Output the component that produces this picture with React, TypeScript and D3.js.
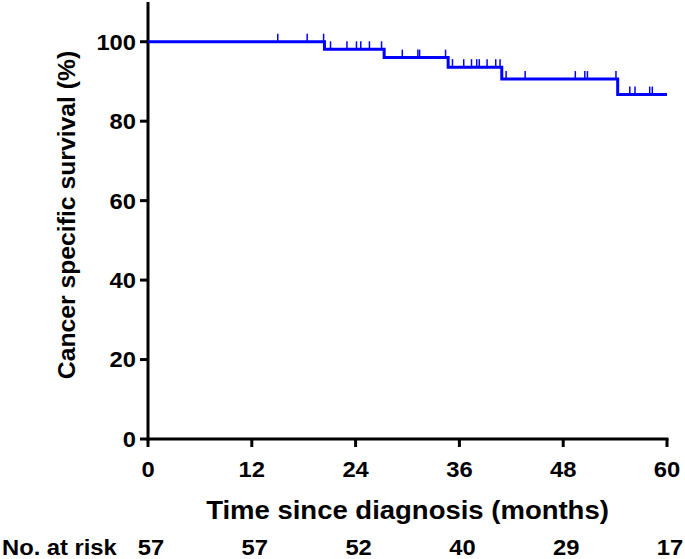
import React from 'react'
import * as d3 from 'd3'

// Kaplan-Meier steps (month, survival %)
const eventTimes = [20.4, 27.3, 34.7, 40.9, 54.3]
const eventSurvival = [98.1, 96.0, 93.6, 90.6, 86.7]
// censored observations (months)
const censorTimes = [
  15.0, 18.4, 20.3, 21.1, 23.0, 24.1, 24.6, 25.6, 27.0, 29.4, 31.2, 31.4, 34.4,
  35.2, 36.5, 37.4, 38.0, 38.3, 39.2, 40.2, 40.7, 41.4, 43.6, 49.4, 50.5, 50.8,
  54.1, 55.7, 56.3, 58.0, 58.3
]
const xTicks = [0, 12, 24, 36, 48, 60]
const yTicks = [0, 20, 40, 60, 80, 100]
const atRisk = [57, 57, 52, 40, 29, 17]

const W = 685
const H = 559
const font = 'Liberation Sans, Arial, sans-serif'

// bold text, slightly stretched horizontally like the original export
const Label = ({ x, y, size, anchor = 'start', sx = 1.08, rotate = 0, dy, children }: any) => (
  <text
    transform={`translate(${x},${y}) rotate(${rotate}) scale(${sx},1)`}
    dy={dy}
    textAnchor={anchor}
    fontFamily={font}
    fontWeight='bold'
    fontSize={size}
  >
    {children}
  </text>
)

const App = () => {
  const x = d3.scaleLinear().domain([0, 60]).range([148, 667])
  const y = d3.scaleLinear().domain([0, 110]).range([439, 2])

  // survival value at a given time (right-continuous step)
  const survAt = (t: number) => {
    let s = 100
    eventTimes.forEach((e, i) => {
      if (t >= e) s = eventSurvival[i]
    })
    return s
  }

  const pts: [number, number][] = [[0, 100]]
  eventTimes.forEach((e, i) => pts.push([e, eventSurvival[i]]))
  pts.push([60, eventSurvival[eventSurvival.length - 1]])
  const line = d3
    .line<[number, number]>()
    .x(d => x(d[0]))
    .y(d => y(d[1]))
    .curve(d3.curveStepAfter)

  return (
    <svg width={W} height={H} style={{ position: 'absolute', left: 0, top: 0 }}>
      <rect width={W} height={H} fill='#fff' />
      {/* axes */}
      <line x1={x(0)} x2={x(0)} y1={y(0) + 1.5} y2={y(110)} stroke='#000' strokeWidth={3} />
      <line x1={x(0) - 1.5} x2={x(60) + 1.5} y1={y(0)} y2={y(0)} stroke='#000' strokeWidth={3} />
      {yTicks.map(t => (
        <g key={'y' + t}>
          <line x1={x(0) - 8} x2={x(0)} y1={y(t)} y2={y(t)} stroke='#000' strokeWidth={3} />
          <Label x={x(0) - 12} y={y(t)} dy='0.36em' anchor='end' size={22}>
            {t}
          </Label>
        </g>
      ))}
      {xTicks.map((t, i) => (
        <g key={'x' + t}>
          <line x1={x(t)} x2={x(t)} y1={y(0)} y2={y(0) + 8} stroke='#000' strokeWidth={3} />
          <Label x={x(t)} y={477} anchor='middle' size={22}>
            {t}
          </Label>
          <Label x={x(t) + 3} y={555} anchor='middle' size={22}>
            {atRisk[i]}
          </Label>
        </g>
      ))}
      <Label x={2} y={555} size={22}>
        No. at risk
      </Label>
      <Label x={(x(0) + x(60)) / 2} y={519} anchor='middle' size={25} sx={1.1}>
        Time since diagnosis (months)
      </Label>
      <Label x={75} y={215} anchor='middle' size={24} sx={1.03} rotate={-90}>
        Cancer specific survival (%)
      </Label>
      {/* survival curve */}
      <path d={line(pts) || ''} fill='none' stroke='#0000ff' strokeWidth={3} />
      {censorTimes.map((t, i) => (
        <line
          key={'c' + i}
          x1={x(t)}
          x2={x(t)}
          y1={y(survAt(t))}
          y2={y(survAt(t)) - 8}
          stroke='#0000ff'
          strokeWidth={1.5}
        />
      ))}
    </svg>
  )
}

export default App
